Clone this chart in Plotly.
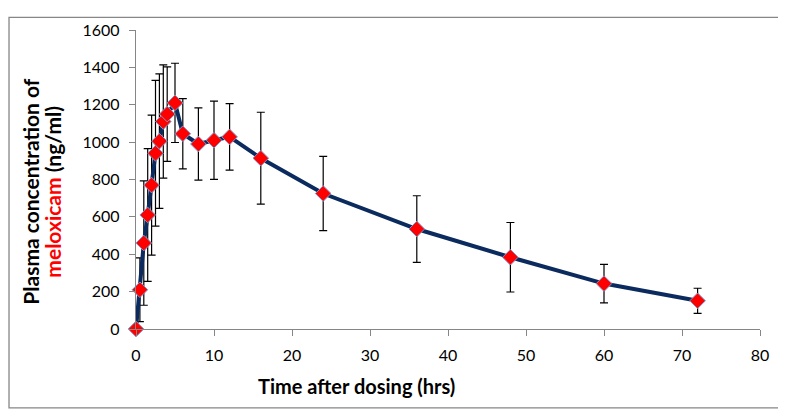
import plotly.graph_objects as go

time_hrs = [0, 0.5, 1, 1.5, 2, 2.5, 3, 3.5, 4, 5, 6, 8, 10, 12, 16, 24, 36, 48, 60, 72]
conc = [0, 210, 460, 610, 770, 940, 1005, 1110, 1150, 1210, 1045, 990, 1010, 1028, 914, 725, 535, 384, 243, 151]
sd = [0, 171, 333, 355, 375, 390, 360, 303, 253, 212, 188, 193, 209, 178, 246, 199, 178, 186, 103, 67]

FONT = "Lato, Carlito, 'Liberation Sans', sans-serif"
AX = "#868686"

fig = go.Figure()
fig.add_trace(go.Scatter(
    x=time_hrs, y=conc, mode="lines+markers",
    line=dict(color="#0B2A5E", width=4),
    marker=dict(symbol="diamond", size=12, color="#FF0000",
                line=dict(color="#7F96C8", width=1)),
    error_y=dict(type="data", array=sd, visible=True, color="black",
                 thickness=1.2, width=4),
    showlegend=False, cliponaxis=False,
))

fig.update_layout(
    width=776, height=409,
    margin=dict(l=128, r=24, t=14, b=88),
    paper_bgcolor="white", plot_bgcolor="white",
    font=dict(family=FONT, size=16, color="black"),
    xaxis=dict(range=[0, 80], dtick=10, showgrid=False, zeroline=False,
               showline=True, linecolor=AX, linewidth=1.3,
               ticks="outside", tickcolor=AX, ticklen=6,
               ticklabelstandoff=6,
               tickfont=dict(family=FONT, size=16)),
    yaxis=dict(range=[0, 1600], dtick=200, showgrid=False, zeroline=False,
               showline=True, linecolor=AX, linewidth=1.3,
               ticks="outside", tickcolor=AX, ticklen=6,
               ticklabelstandoff=6,
               tickfont=dict(family=FONT, size=16)),
    shapes=[dict(type="rect", xref="paper", yref="paper",
                 x0=-0.2035, x1=1.035, y0=-0.264, y1=1.042,
                 line=dict(color=AX, width=1.3), fillcolor="rgba(0,0,0,0)",
                 layer="below")],
    annotations=[
        dict(text="<b>Time after dosing (hrs)</b>", xref="paper", yref="paper",
             x=(356 - 136) / 624, y=(329 - 388) / 307, showarrow=False,
             xanchor="center", yanchor="middle",
             font=dict(family=FONT, size=20, color="black")),
        dict(text="<b>Plasma concentration of</b>", xref="paper", yref="paper",
             x=(31 - 136) / 624, y=(329 - 188) / 307, showarrow=False,
             textangle=-90, xanchor="center", yanchor="middle",
             font=dict(family=FONT, size=21, color="black")),
        dict(text="<b><span style='color:#FF0000'>meloxicam</span> (ng/ml)</b>",
             xref="paper", yref="paper",
             x=(53 - 136) / 624, y=(329 - 188) / 307, showarrow=False,
             textangle=-90, xanchor="center", yanchor="middle",
             font=dict(family=FONT, size=21, color="black")),
    ],
)

fig.write_html("out.html")
